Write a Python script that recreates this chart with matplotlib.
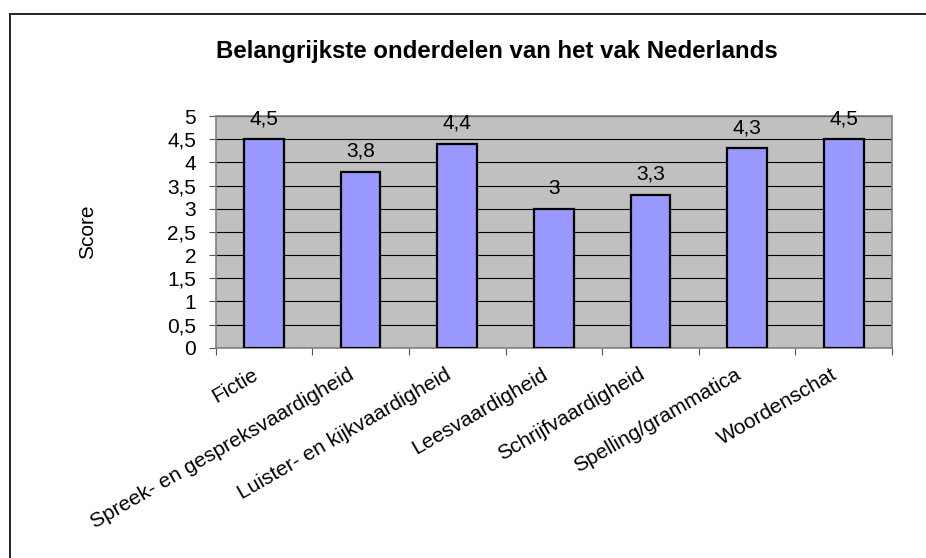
import matplotlib.pyplot as plt
from matplotlib.lines import Line2D

# Data
categories = ["Fictie", "Spreek- en gespreksvaardigheid", "Luister- en kijkvaardigheid",
              "Leesvaardigheid", "Schrijfvaardigheid", "Spelling/grammatica", "Woordenschat"]
scores = [4.5, 3.8, 4.4, 3.0, 3.3, 4.3, 4.5]
yticks = [0, 0.5, 1, 1.5, 2, 2.5, 3, 3.5, 4, 4.5, 5]

plt.rcParams['font.family'] = ['Liberation Sans', 'DejaVu Sans']

fig = plt.figure(figsize=(9.26, 5.58), dpi=100)
ax = fig.add_axes([0.2329, 0.3769, 0.9633 - 0.2329, 0.7921 - 0.3769])
ax.set_facecolor('#C0C0C0')

x = list(range(len(categories)))
ax.bar(x, scores, width=0.41, color='#9999FF', edgecolor='black', linewidth=1.6, zorder=3)

for xi, v in zip(x, scores):
    lbl = f"{v:g}".replace('.', ',')
    ax.annotate(lbl, (xi, v), xytext=(0, 8), textcoords='offset points',
                ha='center', va='bottom', fontsize=15)

ax.set_xlim(-0.5, len(categories) - 0.5)
ax.set_ylim(0, 5)
ax.set_yticks(yticks)
ax.set_yticklabels([f"{t:g}".replace('.', ',') for t in yticks], fontsize=15)
ax.yaxis.grid(True, color='black', linewidth=0.8, zorder=1)
ax.set_axisbelow(True)

# ticks between categories
ax.set_xticks([i - 0.5 for i in range(len(categories) + 1)])
ax.set_xticklabels([])
ax.tick_params(axis='x', direction='out', length=5, color='#555555', width=0.8)
ax.tick_params(axis='y', direction='out', length=5, color='#555555', width=0.8, pad=9)
for i, c in enumerate(categories):
    ax.text(i - 0.08, -0.55, c, rotation=30, rotation_mode='anchor', ha='right', va='center',
            fontsize=15, transform=ax.transData)

for s in ax.spines.values():
    s.set_color('#808080')
    s.set_linewidth(1.2)

fig.text(0.537, 0.9086, "Belangrijkste onderdelen van het vak Nederlands",
         ha='center', va='center', fontsize=17.3, fontweight='bold')
fig.text(0.095, 0.584, "Score", rotation=90, ha='center', va='center', fontsize=15)

# chart border (top and left visible)
fig.add_artist(Line2D([9.5 / 926, 9.5 / 926], [0, 1 - 13.5 / 558], transform=fig.transFigure,
                      color='#222222', linewidth=1.4))
fig.add_artist(Line2D([9.5 / 926, 1], [1 - 13.5 / 558, 1 - 13.5 / 558], transform=fig.transFigure,
                      color='#222222', linewidth=1.4))

fig.savefig('out.png', dpi=100)
